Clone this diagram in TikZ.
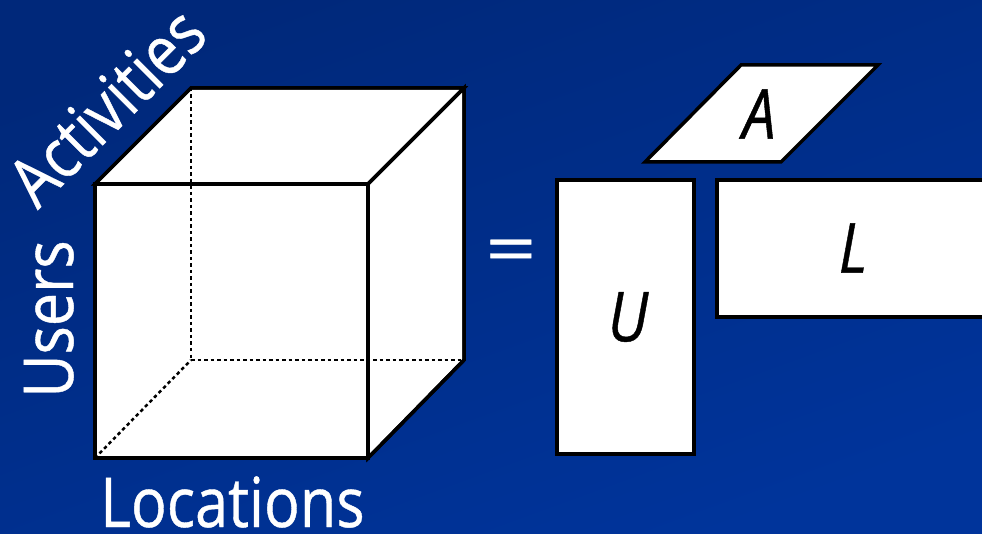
\documentclass[tikz,border=0pt]{standalone}
\usepackage{fontspec}
\setmainfont{Open Sans}[FakeStretch=0.86, FakeBold=0.6]
\definecolor{bgtop}{RGB}{0,40,122}
\definecolor{bgbot}{RGB}{0,52,155}
\tikzset{
  face/.style={fill=white, draw=black, line width=3.5pt, line join=miter},
  edge/.style={draw=black, line width=3.5pt, line join=miter},
  hidden/.style={draw=black, line width=2.5pt, dash pattern=on 3.5pt off 3pt},
  axislabel/.style={text=white, inner sep=0pt, font=\fontsize{69}{70}\selectfont},
  factor/.style={text=black, inner sep=0pt, font=\fontsize{69}{70}\selectfont\itshape}
}
\begin{document}
\begin{tikzpicture}[x=1pt,y=-1pt]
\useasboundingbox (0,0) rectangle (982,534);
\shade[top color=bgtop, bottom color=bgbot, shading angle=20] (-2,-2) rectangle (984,536);
% cube vertices
\coordinate (f1) at (95,184);
\coordinate (f2) at (368,184);
\coordinate (f3) at (368,458);
\coordinate (f4) at (95,458);
\coordinate (b1) at (191,88);
\coordinate (b2) at (464,88);
\coordinate (b3) at (464,360);
\coordinate (b4) at (191,360);
% faces
\path[face] (f1) -- (b1) -- (b2) -- (f2) -- cycle;
\path[face] (f2) -- (b2) -- (b3) -- (f3) -- cycle;
\path[face] (f1) -- (f2) -- (f3) -- (f4) -- cycle;
% hidden edges
\draw[hidden] (b1) -- (b4);
\draw[hidden] (b4) -- (b3);
\draw[hidden] (f4) -- (b4);
% visible edges on top
\draw[edge] (f1) -- (b1) -- (b2) -- (f2) -- cycle;
\draw[edge] (f2) -- (b2) -- (b3) -- (f3) -- cycle;
\draw[edge] (f1) -- (f2) -- (f3) -- (f4) -- cycle;
% axis labels
\node[axislabel, anchor=base west] (loc) at (100,527) {Locations};
\node[axislabel, rotate=90, anchor=base] (users) at (73,319) {Users};
\node[axislabel, rotate=45, anchor=base] (act) at (124,124) {Activities};
% equals
\node[axislabel, xscale=1.5, transform shape] (eq) at (511,256.5) {=};
% factor matrices
\path[face] (645,162) -- (741,65) -- (878,65) -- (781,162) -- cycle;
\path[face] (557,180) rectangle (694,454);
\path[face] (717,180) rectangle (995,317);
\node[factor] (A) at (759,114) {A};
\node[factor] (U) at (628,317) {U};
\node[factor] (L) at (853,248) {L};
\end{tikzpicture}
\end{document}
